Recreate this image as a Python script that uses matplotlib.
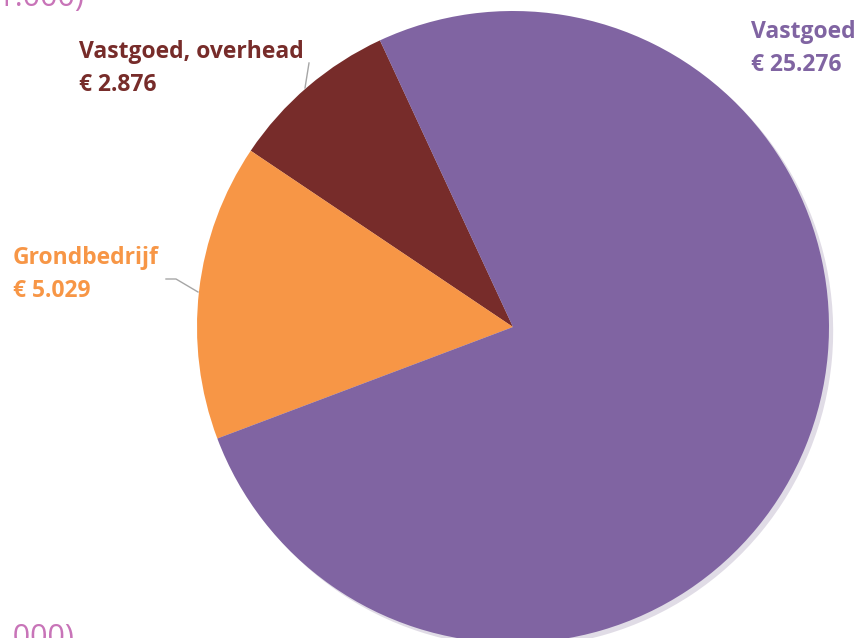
import matplotlib
matplotlib.use("Agg")
import matplotlib.pyplot as plt

categories = ["Vastgoed, overhead", "Grondbedrijf", "Vastgoed"]
values = [2876, 5029, 25276]
value_labels = ["€ 2.876", "€ 5.029", "€ 25.276"]
colors = ["#772C2A", "#F79646", "#8064A2"]

W, H = 866, 638
fig = plt.figure(figsize=(W / 100, H / 100), dpi=100)
ax = fig.add_axes([0, 0, 1, 1])

cx, cy, r = 513, H - 327, 316
ax.pie(values, colors=colors, startangle=114.9, counterclock=True,
       center=(cx, cy), radius=r, frame=True,
       wedgeprops=dict(linewidth=0),
       shadow=dict(ox=3, oy=-3, shade=0.2, alpha=0.2))
ax.set_xlim(0, W)
ax.set_ylim(0, H)
ax.set_aspect("equal")
ax.axis("off")

font = ["Open Sans", "DejaVu Sans"]
def label(x, y_top, name, val, color, ha="left"):
    ax.text(x, H - y_top, name + "\n" + val, color=color, fontsize=16.5,
            fontweight="bold", family=font, ha=ha, va="top", linespacing=1.5)

label(79, 40, categories[0], value_labels[0], colors[0])
label(13, 246, categories[1], value_labels[1], colors[1])
label(751, 20, categories[2], value_labels[2], colors[2])

# leader lines
ax.plot([309, 305], [H - 63, H - 88], color="#A6A6A6", lw=1)
ax.plot([166, 176, 198], [H - 279, H - 279, H - 292], color="#A6A6A6", lw=1)

# clipped text remnants from neighbouring slide content
pink_font = ["Open Sans", "DejaVu Sans"]
ax.text(84, H - 6, "(x € 1.000)", color="#C874B8", fontsize=22,
        family=pink_font, ha="right", va="baseline", clip_on=False)
ax.text(74, H - 623, "(x € 1.000)", color="#C874B8", fontsize=22,
        family=pink_font, ha="right", va="top", clip_on=False)

fig.savefig("out.png", dpi=100)
